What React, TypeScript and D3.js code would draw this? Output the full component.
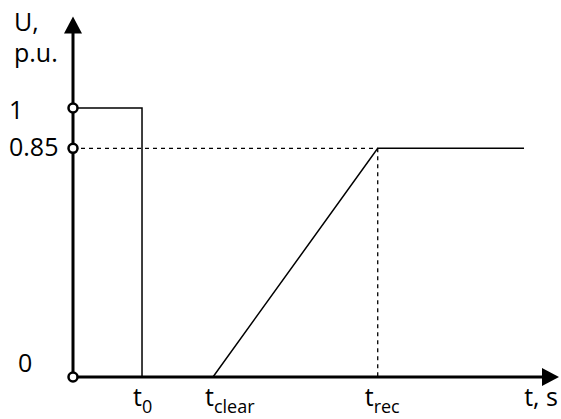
import React from "react";
import * as d3 from "d3";

// Voltage profile (p.u.) against time, in arbitrary time units
const timeMarks = ["0", "clear", "rec"];
const timeValues = [1.42, 2.88, 6.27];
const timeEnd = 9.28;
const levelLabels = ["1", "0.85", "0"];
const levelValues = [1, 0.85, 0];

const W = 561;
const H = 419;
const FONT = "'Open Sans', 'Noto Sans', sans-serif";

export default function App() {
  const x = d3.scaleLinear().domain([0, 10]).range([73, 559]);
  const y = d3.scaleLinear().domain([0, 1]).range([377, 108]);

  const [t0, tClear, tRec] = timeValues;
  const uPre = levelValues[0];
  const uRec = levelValues[1];

  const line = d3
    .line<[number, number]>()
    .x((d) => x(d[0]))
    .y((d) => y(d[1]));

  const stepPath = line([
    [0, uPre],
    [t0, uPre],
    [t0, 0],
  ]);
  const rampPath = line([
    [tClear, 0],
    [tRec, uRec],
    [timeEnd, uRec],
  ]);
  const dashH = line([
    [0, uRec],
    [tRec, uRec],
  ]);
  const dashV = line([
    [tRec, uRec],
    [tRec, 0],
  ]);

  const x0 = x(0);
  const y0 = y(0);
  const yTop = y(1.34);
  const xRight = x(10);
  const head = 17;
  const half = 9;

  const yOffsets = [11, 8, -5];
  const xStarts = [9, 9, 18];
  const tOffsets = [-9, -8, -13];

  return (
    <svg
      width={W}
      height={H}
      style={{ position: "absolute", left: 0, top: 0, background: "#fff" }}
      fontFamily={FONT}
    >
      {/* axes */}
      <line x1={x0} y1={y0} x2={x0} y2={yTop + head - 1} stroke="#000" strokeWidth={3} />
      <path
        d={`M${x0},${yTop} L${x0 - half},${yTop + head} L${x0 + half},${yTop + head} Z`}
        fill="#000"
      />
      <line x1={x0} y1={y0} x2={xRight - head + 1} y2={y0} stroke="#000" strokeWidth={3} />
      <path
        d={`M${xRight},${y0} L${xRight - head},${y0 - half} L${xRight - head},${y0 + half} Z`}
        fill="#000"
      />

      {/* guides */}
      <path d={dashH ?? ""} fill="none" stroke="#000" strokeWidth={1.3} strokeDasharray="4,4" />
      <path d={dashV ?? ""} fill="none" stroke="#000" strokeWidth={1.3} strokeDasharray="4,4" />

      {/* voltage curve */}
      <path d={stepPath ?? ""} fill="none" stroke="#000" strokeWidth={1.5} />
      <path d={rampPath ?? ""} fill="none" stroke="#000" strokeWidth={1.5} />

      {/* level markers */}
      {levelValues.map((v, i) => (
        <circle
          key={"c" + i}
          cx={x0}
          cy={y(v)}
          r={4.5}
          fill="#fff"
          stroke="#000"
          strokeWidth={2.5}
        />
      ))}

      {/* level labels */}
      {levelValues.map((v, i) => (
        <text
          key={"l" + i}
          x={xStarts[i]}
          y={y(v) + yOffsets[i]}
          fontSize={25}
          fill="#000"
        >
          {levelLabels[i]}
        </text>
      ))}

      {/* axis titles */}
      <text x={14} y={31} fontSize={25} fill="#000">
        U,
      </text>
      <text x={14} y={62} fontSize={25} fill="#000">
        p.u.
      </text>
      <text x={xRight - 1} y={406} textAnchor="end" fontSize={25} fill="#000">
        t, s
      </text>

      {/* time labels */}
      {timeValues.map((t, i) => (
        <text key={"t" + i} x={x(t) + tOffsets[i]} y={406} fontSize={25} fill="#000">
          t
          <tspan fontSize={18} dy={7}>
            {timeMarks[i]}
          </tspan>
        </text>
      ))}
    </svg>
  );
}
